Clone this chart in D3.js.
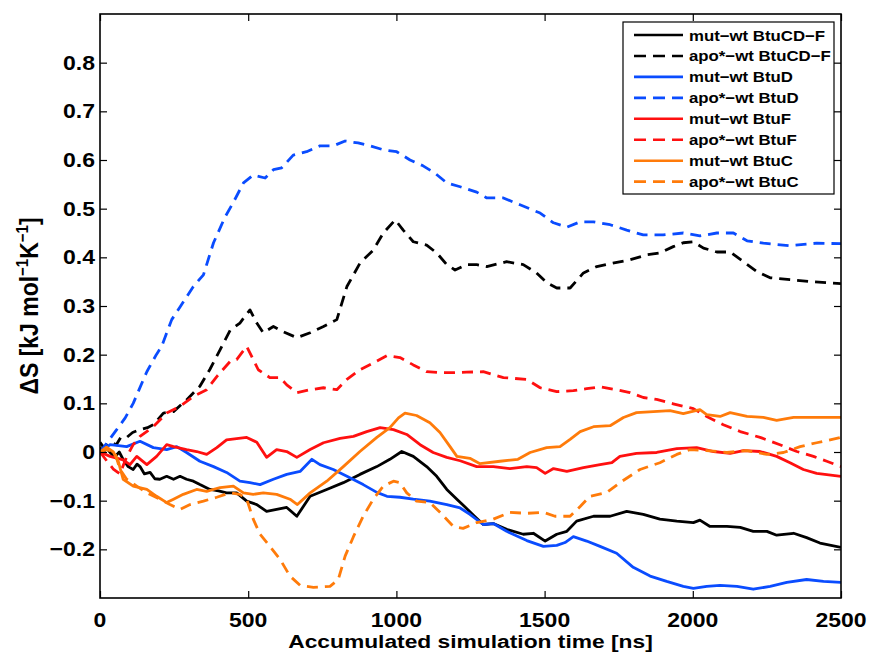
<!DOCTYPE html>
<html><head><meta charset="utf-8">
<script src="https://cdn.jsdelivr.net/npm/d3@7"></script>
<style>body{margin:0;background:#fff}svg{display:block}text{font-family:"Liberation Sans",Arial,sans-serif;font-weight:bold}</style>
</head><body>
<svg id="c" width="870" height="653"></svg>
<script>
const xTicks=[0,500,1000,1500,2000,2500];
const yTicks=[-0.2,-0.1,0,0.1,0.2,0.3,0.4,0.5,0.6,0.7,0.8];
const seriesNames=["mut\u2212wt BtuCD\u2212F","apo*\u2212wt BtuCD\u2212F","mut\u2212wt BtuD","apo*\u2212wt BtuD","mut\u2212wt BtuF","apo*\u2212wt BtuF","mut\u2212wt BtuC","apo*\u2212wt BtuC"];
const seriesColors=["#000000","#000000","#0a4cff","#0a4cff","#ff1010","#ff1010","#ff7b0a","#ff7b0a"];
const seriesDashed=[false,true,false,true,false,true,false,true];

const mutCDF=[[0,0.01],[10,-0.005],[20,0.01],[34,-0.001],[50,-0.01],[65,0.0],[78,-0.015],[95,-0.03],[112,-0.036],[125,-0.025],[135,-0.03],[150,-0.045],[169,-0.042],[185,-0.055],[202,-0.056],[225,-0.05],[248,-0.056],[270,-0.05],[292,-0.056],[315,-0.06],[337,-0.067],[371,-0.077],[400,-0.08],[427,-0.084],[461,-0.084],[495,-0.101],[529,-0.108],[562,-0.122],[596,-0.118],[630,-0.114],[664,-0.132],[709,-0.091],[765,-0.077],[821,-0.063],[877,-0.046],[934,-0.03],[978,-0.015],[1018,0.001],[1057,-0.009],[1102,-0.03],[1136,-0.05],[1170,-0.077],[1204,-0.097],[1230,-0.112],[1260,-0.13],[1293,-0.149],[1327,-0.147],[1372,-0.159],[1428,-0.169],[1462,-0.167],[1502,-0.183],[1541,-0.169],[1575,-0.163],[1608,-0.142],[1665,-0.132],[1721,-0.132],[1777,-0.122],[1833,-0.128],[1889,-0.138],[1946,-0.142],[2002,-0.145],[2024,-0.14],[2058,-0.153],[2115,-0.153],[2160,-0.155],[2204,-0.163],[2250,-0.163],[2283,-0.171],[2340,-0.167],[2384,-0.176],[2429,-0.187],[2500,-0.196]];
const apoCDF=[[0,0.02],[12,0.01],[34,0.02],[55,0.015],[70,0.03],[90,0.03],[110,0.04],[135,0.046],[160,0.05],[180,0.056],[214,0.08],[248,0.083],[292,0.107],[337,0.135],[371,0.17],[405,0.21],[439,0.25],[472,0.265],[506,0.292],[529,0.265],[551,0.245],[585,0.258],[619,0.247],[664,0.235],[709,0.245],[754,0.258],[799,0.272],[833,0.34],[877,0.388],[922,0.415],[956,0.45],[996,0.477],[1023,0.456],[1057,0.432],[1102,0.425],[1136,0.409],[1170,0.385],[1198,0.374],[1237,0.385],[1271,0.385],[1305,0.381],[1372,0.391],[1428,0.385],[1473,0.368],[1507,0.348],[1541,0.337],[1586,0.337],[1631,0.368],[1676,0.381],[1721,0.387],[1788,0.395],[1844,0.405],[1889,0.409],[1934,0.422],[1968,0.43],[2002,0.432],[2036,0.419],[2081,0.411],[2126,0.411],[2171,0.391],[2216,0.371],[2261,0.358],[2328,0.354],[2396,0.35],[2500,0.346]];
const mutD=[[0,0.0],[34,0.015],[90,0.011],[135,0.022],[180,0.009],[225,0.005],[259,0.011],[292,-0.001],[337,-0.019],[383,-0.03],[427,-0.042],[472,-0.06],[506,-0.063],[540,-0.067],[585,-0.056],[630,-0.046],[675,-0.04],[715,-0.015],[742,-0.026],[787,-0.036],[833,-0.05],[888,-0.067],[934,-0.083],[968,-0.091],[1012,-0.093],[1057,-0.097],[1113,-0.101],[1170,-0.108],[1215,-0.115],[1248,-0.128],[1293,-0.149],[1327,-0.147],[1372,-0.163],[1440,-0.182],[1496,-0.194],[1541,-0.192],[1569,-0.186],[1597,-0.174],[1642,-0.183],[1687,-0.194],[1743,-0.208],[1799,-0.237],[1856,-0.255],[1912,-0.266],[1968,-0.276],[2002,-0.28],[2047,-0.276],[2092,-0.274],[2149,-0.276],[2204,-0.282],[2261,-0.276],[2317,-0.268],[2384,-0.262],[2441,-0.266],[2500,-0.268]];
const apoD=[[0,0.0],[25,0.02],[55,0.045],[85,0.07],[112,0.1],[158,0.165],[190,0.2],[208,0.217],[242,0.272],[270,0.298],[315,0.34],[349,0.364],[383,0.43],[422,0.483],[450,0.513],[484,0.553],[517,0.569],[557,0.563],[585,0.58],[613,0.584],[652,0.61],[697,0.617],[742,0.629],[787,0.629],[827,0.639],[871,0.635],[911,0.629],[956,0.621],[1001,0.617],[1046,0.6],[1090,0.588],[1130,0.573],[1170,0.553],[1215,0.545],[1271,0.534],[1305,0.522],[1361,0.522],[1417,0.508],[1485,0.491],[1530,0.471],[1575,0.462],[1620,0.473],[1665,0.473],[1721,0.467],[1777,0.456],[1833,0.446],[1900,0.446],[1968,0.45],[2024,0.444],[2081,0.45],[2137,0.45],[2183,0.434],[2238,0.429],[2328,0.424],[2418,0.429],[2500,0.428]];
const mutF=[[0,0.0],[34,-0.009],[78,-0.016],[101,-0.026],[124,-0.009],[158,-0.026],[191,-0.009],[225,0.015],[248,0.011],[292,0.005],[326,0.001],[360,-0.005],[394,0.009],[427,0.025],[495,0.03],[529,0.02],[562,-0.011],[596,0.005],[630,0.001],[664,-0.011],[709,0.005],[754,0.019],[810,0.028],[855,0.032],[900,0.042],[945,0.05],[990,0.046],[1035,0.036],[1080,0.015],[1124,-0.001],[1170,-0.011],[1215,-0.018],[1271,-0.03],[1327,-0.03],[1383,-0.034],[1440,-0.03],[1473,-0.032],[1502,-0.044],[1530,-0.034],[1575,-0.04],[1631,-0.032],[1687,-0.026],[1727,-0.022],[1754,-0.009],[1810,-0.003],[1878,-0.001],[1946,0.007],[2013,0.009],[2070,0.001],[2126,-0.003],[2171,0.003],[2227,0.001],[2283,-0.009],[2328,-0.022],[2373,-0.036],[2418,-0.044],[2500,-0.05]];
const apoF=[[0,0.0],[25,-0.02],[45,-0.035],[67,-0.045],[90,-0.01],[112,0.015],[135,0.032],[180,0.052],[225,0.08],[270,0.094],[315,0.114],[360,0.128],[394,0.155],[439,0.186],[461,0.19],[495,0.217],[517,0.19],[534,0.169],[573,0.153],[607,0.153],[630,0.138],[664,0.122],[709,0.128],[754,0.132],[799,0.128],[833,0.149],[877,0.169],[922,0.183],[968,0.198],[1012,0.194],[1057,0.179],[1102,0.165],[1147,0.163],[1192,0.163],[1237,0.164],[1293,0.165],[1361,0.153],[1440,0.149],[1485,0.132],[1541,0.124],[1597,0.126],[1642,0.13],[1687,0.134],[1743,0.128],[1788,0.122],[1833,0.112],[1878,0.108],[1934,0.099],[2002,0.089],[2047,0.073],[2103,0.056],[2160,0.042],[2227,0.03],[2294,0.015],[2351,0.001],[2407,-0.009],[2452,-0.019],[2500,-0.03]];
const mutC=[[0,0.0],[22,0.01],[45,0.0],[62,-0.02],[78,-0.056],[112,-0.07],[158,-0.077],[191,-0.091],[225,-0.104],[248,-0.097],[281,-0.087],[326,-0.077],[360,-0.081],[405,-0.073],[450,-0.07],[484,-0.084],[517,-0.087],[551,-0.084],[596,-0.087],[641,-0.097],[666,-0.108],[709,-0.084],[765,-0.06],[821,-0.03],[877,0.001],[934,0.03],[978,0.05],[1007,0.07],[1029,0.08],[1068,0.075],[1113,0.06],[1147,0.04],[1181,0.011],[1204,-0.009],[1248,-0.013],[1282,-0.024],[1350,-0.019],[1410,-0.015],[1451,-0.001],[1507,0.009],[1552,0.011],[1586,0.026],[1620,0.042],[1665,0.052],[1721,0.054],[1766,0.071],[1810,0.081],[1867,0.083],[1923,0.085],[1968,0.079],[2024,0.087],[2047,0.077],[2092,0.073],[2126,0.081],[2183,0.073],[2238,0.071],[2283,0.065],[2340,0.071],[2418,0.071],[2500,0.071]];
const apoC=[[0,0.0],[22,0.005],[50,0.0],[67,-0.035],[90,-0.056],[124,-0.07],[158,-0.084],[202,-0.097],[236,-0.108],[270,-0.118],[304,-0.108],[349,-0.101],[394,-0.093],[439,-0.084],[472,-0.087],[495,-0.097],[517,-0.138],[540,-0.169],[573,-0.194],[607,-0.22],[641,-0.255],[675,-0.274],[720,-0.278],[776,-0.276],[804,-0.262],[827,-0.214],[855,-0.174],[888,-0.132],[922,-0.097],[956,-0.07],[990,-0.06],[1012,-0.063],[1035,-0.084],[1068,-0.101],[1113,-0.104],[1147,-0.124],[1192,-0.153],[1225,-0.157],[1271,-0.145],[1327,-0.138],[1383,-0.124],[1440,-0.126],[1496,-0.124],[1535,-0.132],[1586,-0.132],[1620,-0.112],[1653,-0.091],[1710,-0.083],[1754,-0.063],[1822,-0.036],[1889,-0.022],[1946,-0.005],[1990,0.005],[2047,0.003],[2115,-0.001],[2183,0.003],[2250,-0.005],[2306,-0.001],[2362,0.011],[2418,0.019],[2500,0.03]];
const seriesData=[mutCDF,apoCDF,mutD,apoD,mutF,apoF,mutC,apoC];

const L=100,R=841,T=14,B=598;
const svg=d3.select("#c");
const x=d3.scaleLinear().domain([0,2500]).range([L,R]);
const y=d3.scaleLinear().domain([-0.3,0.9]).range([B,T]);
const SX=1.15;
const fmt=v=>(v<0?"\u2212":"")+(v===0?"0":Math.abs(v).toFixed(1));

svg.append("defs").append("clipPath").attr("id","pc").append("rect").attr("x",L).attr("y",T).attr("width",R-L).attr("height",B-T);

const line=d3.line().x(d=>x(d[0])).y(d=>y(d[1]));
const g=svg.append("g").attr("clip-path","url(#pc)");
seriesData.forEach((d,i)=>{
  g.append("path").datum(d).attr("d",line).attr("fill","none")
   .attr("stroke",seriesColors[i]).attr("stroke-width",2.8)
   .attr("stroke-linejoin","round")
   .attr("stroke-dasharray",seriesDashed[i]?"11,7":null);
});

const ax=svg.append("g");
ax.append("g").attr("transform",`translate(0,${B})`).call(d3.axisBottom(x).tickValues(xTicks).tickSizeInner(-7).tickSizeOuter(0).tickFormat(""));
ax.append("g").attr("transform",`translate(0,${T})`).call(d3.axisTop(x).tickValues(xTicks).tickSizeInner(-7).tickSizeOuter(0).tickFormat(""));
ax.append("g").attr("transform",`translate(${L},0)`).call(d3.axisLeft(y).tickValues(yTicks).tickSizeInner(-7).tickSizeOuter(0).tickFormat(""));
ax.append("g").attr("transform",`translate(${R},0)`).call(d3.axisRight(y).tickValues(yTicks).tickSizeInner(-7).tickSizeOuter(0).tickFormat(""));
ax.selectAll(".domain").remove();
ax.selectAll(".tick line").attr("stroke","#000").attr("stroke-width",1.2);
svg.append("rect").attr("x",L).attr("y",T).attr("width",R-L).attr("height",B-T).attr("fill","none").attr("stroke","#000").attr("stroke-width",1.6);

svg.append("g").selectAll("text").data(xTicks).join("text")
  .attr("transform",d=>`translate(${x(d)},627) scale(${SX},1)`)
  .attr("text-anchor","middle").attr("font-size",20).text(d=>d);
svg.append("g").selectAll("text").data(yTicks).join("text")
  .attr("transform",d=>`translate(95,${y(d)+7}) scale(${SX},1)`)
  .attr("text-anchor","end").attr("font-size",20).text(fmt);

svg.append("text").attr("transform",`translate(${(L+R)/2},648) scale(1.2,1)`)
  .attr("text-anchor","middle").attr("font-size",19).text("Accumulated simulation time [ns]");
const yl=svg.append("text").attr("transform",`translate(38,306) scale(1.1,1) rotate(-90)`)
  .attr("text-anchor","middle").attr("font-size",23);
yl.append("tspan").text("\u0394S [kJ mol");
yl.append("tspan").attr("dy",-9).attr("font-size",15).text("\u22121");
yl.append("tspan").attr("dy",9).text("K");
yl.append("tspan").attr("dy",-9).attr("font-size",15).text("\u22121");
yl.append("tspan").attr("dy",9).text("]");

const lg=svg.append("g");
lg.append("rect").attr("x",623).attr("y",22).attr("width",211).attr("height",172).attr("fill","#fff").attr("stroke","#000").attr("stroke-width",1.2);
seriesNames.forEach((n,i)=>{
  const yy=35+i*20.95;
  lg.append("line").attr("x1",634).attr("x2",683).attr("y1",yy).attr("y2",yy)
    .attr("stroke",seriesColors[i]).attr("stroke-width",2.6)
    .attr("stroke-dasharray",seriesDashed[i]?"12,7":null);
  lg.append("text").attr("transform",`translate(689,${yy+5.5}) scale(1.12,1)`).attr("font-size",15).text(n);
});
</script>
</body></html>
